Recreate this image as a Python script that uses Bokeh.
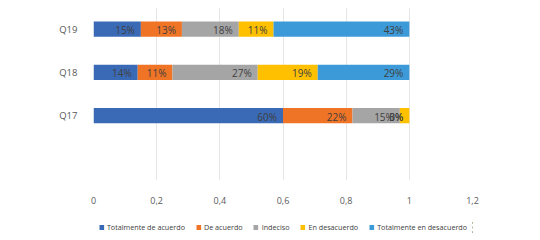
from bokeh.plotting import figure
from bokeh.layouts import column
from bokeh.models import (FactorRange, Range1d, FixedTicker, CustomJSTickFormatter,
                          Legend, LegendItem, ColumnDataSource)
from bokeh.core.properties import value
from bokeh.embed import file_html
from bokeh.resources import INLINE

# ---- data ----
questions = ["Q17", "Q18", "Q19"]
series = ["Totalmente de acuerdo", "De acuerdo", "Indeciso",
          "En desacuerdo", "Totalmente en desacuerdo"]
totalmente_de_acuerdo = [0.60, 0.14, 0.15]
de_acuerdo = [0.22, 0.11, 0.13]
indeciso = [0.15, 0.27, 0.18]
en_desacuerdo = [0.03, 0.19, 0.11]
totalmente_en_desacuerdo = [0.00, 0.29, 0.43]
x_ticks = [0, 0.2, 0.4, 0.6, 0.8, 1.0, 1.2]

colors = ["#3A6AB6", "#F07426", "#A5A5A5", "#FFC000", "#3C9AD8"]
keys = ["s0", "s1", "s2", "s3", "s4"]
values = [totalmente_de_acuerdo, de_acuerdo, indeciso, en_desacuerdo, totalmente_en_desacuerdo]

data = {"q": questions}
for k, v in zip(keys, values):
    data[k] = v
source = ColumnDataSource(data)

FONT = "Open Sans"
p = figure(width=532, height=220, output_backend="svg", toolbar_location=None,
           y_range=FactorRange(factors=[" "] + questions),
           x_range=Range1d(0, 1.2),
           min_border_left=93, min_border_right=60, min_border_top=7,
           min_border_bottom=40)
p.outline_line_color = None

renderers = p.hbar_stack(keys, y="q", height=0.35, color=colors, source=source,
                         line_color=None)

# data labels at inside end of each segment
cum = [0.0] * len(questions)
for i, (k, v) in enumerate(zip(keys, values)):
    ends = [c + x for c, x in zip(cum, v)]
    cum = ends
    lsrc = ColumnDataSource(dict(x=ends, q=questions,
                                 t=[f"{round(x*100)}%" for x in v]))
    p.text(x="x", y="q", text="t", source=lsrc, text_align="right",
           text_baseline="middle", x_offset=-6, y_offset=1,
           text_font=value(FONT), text_font_size="10px", text_color="#404040")

# axes
p.xaxis.ticker = FixedTicker(ticks=x_ticks)
p.xaxis.formatter = CustomJSTickFormatter(code="""
var s = (Math.round(tick*10)/10).toString();
return s.replace('.', ',');
""")
p.xaxis.axis_line_color = None
p.xaxis.major_tick_line_color = None
p.xaxis.minor_tick_line_color = None
p.xaxis.major_label_standoff = 10
p.xaxis.major_label_text_font = FONT
p.xaxis.major_label_text_font_size = "9px"
p.xaxis.major_label_text_color = "#595959"

p.yaxis.axis_line_color = None
p.yaxis.major_tick_line_color = None
p.yaxis.minor_tick_line_color = None
p.yaxis.major_label_standoff = 10
p.yaxis.major_label_text_font = FONT
p.yaxis.major_label_text_font_size = "9.5px"
p.yaxis.major_label_text_color = "#595959"

p.xgrid.grid_line_color = "#E6E6E6"
p.xgrid.ticker = FixedTicker(ticks=x_ticks)
p.ygrid.grid_line_color = None

# legend strip below the chart (its bars lie outside its visible range)
lf = figure(width=532, height=14, output_backend="svg", toolbar_location=None,
            x_range=Range1d(-3, -2), y_range=FactorRange(factors=questions),
            x_axis_location=None, y_axis_location=None,
            min_border_left=0, min_border_right=0, min_border_top=0,
            min_border_bottom=0)
lf.grid.grid_line_color = None
lf.outline_line_color = None
lrs = lf.hbar_stack(keys, y="q", height=0.35, color=colors, source=source,
                    line_color=None)
legend = Legend(items=[LegendItem(label=s, renderers=[r]) for s, r in zip(series, lrs)],
                orientation="horizontal", location="center",
                glyph_width=6, glyph_height=6, label_standoff=3, spacing=10,
                label_text_font=FONT, label_text_font_size="7.2px",
                label_text_color="#404040", label_height=10,
                padding=0, margin=0, border_line_color=None,
                background_fill_alpha=0)
lf.add_layout(legend)

layout = column(p, lf, spacing=0)
open("out.html", "w").write(file_html(layout, INLINE))
